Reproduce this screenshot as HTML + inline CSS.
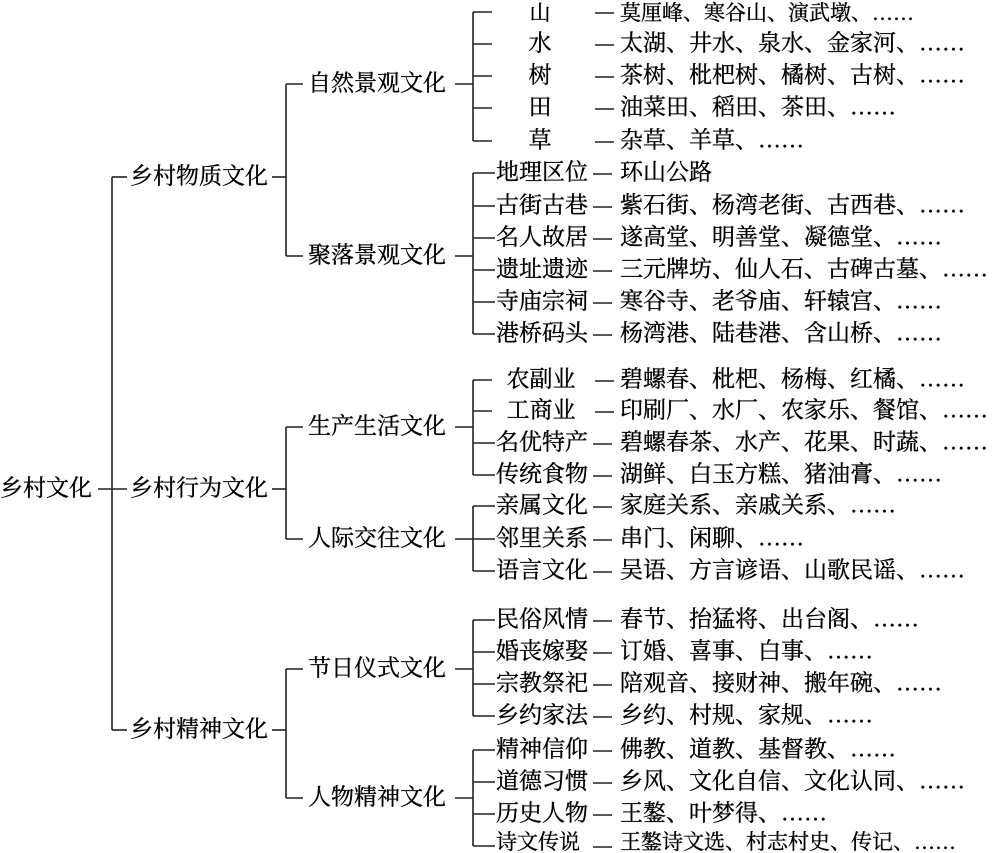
<!DOCTYPE html>
<html><head><meta charset="utf-8"><style>
html,body{margin:0;padding:0;background:#fff;width:1000px;height:853px;overflow:hidden}
svg text{font-family:"Liberation Serif","Noto Serif CJK SC",serif;font-size:23px;fill:#000;stroke:#000;stroke-width:0.35;dominant-baseline:central}
svg text.sm{font-size:21px}
svg line{stroke:#222;stroke-width:1.6}
</style></head><body>
<svg width="1000" height="853" viewBox="0 0 1000 853" xmlns="http://www.w3.org/2000/svg">
<line x1="98" y1="489" x2="127" y2="489"/>
<line x1="112" y1="177" x2="112" y2="730"/>
<line x1="112" y1="177" x2="127" y2="177"/>
<line x1="112" y1="730" x2="127" y2="730"/>
<line x1="272" y1="177" x2="286" y2="177"/>
<line x1="272" y1="489" x2="286" y2="489"/>
<line x1="272" y1="730" x2="286" y2="730"/>
<line x1="286" y1="84" x2="286" y2="256"/>
<line x1="286" y1="427" x2="286" y2="539"/>
<line x1="286" y1="669" x2="286" y2="798"/>
<line x1="286" y1="84" x2="303" y2="84"/>
<line x1="286" y1="256" x2="303" y2="256"/>
<line x1="286" y1="427" x2="303" y2="427"/>
<line x1="286" y1="539" x2="303" y2="539"/>
<line x1="286" y1="669" x2="303" y2="669"/>
<line x1="286" y1="798" x2="303" y2="798"/>
<line x1="455" y1="84" x2="473" y2="84"/>
<line x1="455" y1="256" x2="473" y2="256"/>
<line x1="455" y1="427" x2="473" y2="427"/>
<line x1="455" y1="539" x2="473" y2="539"/>
<line x1="455" y1="669" x2="473" y2="669"/>
<line x1="455" y1="798" x2="473" y2="798"/>
<line x1="473" y1="12" x2="473" y2="141"/>
<line x1="473" y1="173" x2="473" y2="334"/>
<line x1="473" y1="380" x2="473" y2="475"/>
<line x1="473" y1="506" x2="473" y2="571"/>
<line x1="473" y1="620" x2="473" y2="716"/>
<line x1="473" y1="750" x2="473" y2="846"/>
<line x1="473" y1="12" x2="492" y2="12"/><line x1="595" y1="13" x2="614" y2="13"/>
<line x1="473" y1="44" x2="492" y2="44"/><line x1="595" y1="45" x2="614" y2="45"/>
<line x1="473" y1="76" x2="492" y2="76"/><line x1="595" y1="77" x2="614" y2="77"/>
<line x1="473" y1="108" x2="492" y2="108"/><line x1="595" y1="109" x2="614" y2="109"/>
<line x1="473" y1="141" x2="492" y2="141"/><line x1="595" y1="142" x2="614" y2="142"/>
<line x1="473" y1="173" x2="495" y2="173"/><line x1="593" y1="174" x2="612" y2="174"/>
<line x1="473" y1="206" x2="495" y2="206"/><line x1="593" y1="207" x2="612" y2="207"/>
<line x1="473" y1="238" x2="495" y2="238"/><line x1="593" y1="239" x2="612" y2="239"/>
<line x1="473" y1="270" x2="495" y2="270"/><line x1="593" y1="271" x2="612" y2="271"/>
<line x1="473" y1="302" x2="495" y2="302"/><line x1="593" y1="303" x2="612" y2="303"/>
<line x1="473" y1="334" x2="495" y2="334"/><line x1="593" y1="335" x2="612" y2="335"/>
<line x1="473" y1="380" x2="492" y2="380"/><line x1="595" y1="381" x2="614" y2="381"/>
<line x1="473" y1="411" x2="492" y2="411"/><line x1="595" y1="412" x2="614" y2="412"/>
<line x1="473" y1="443" x2="495" y2="443"/><line x1="593" y1="444" x2="612" y2="444"/>
<line x1="473" y1="475" x2="495" y2="475"/><line x1="593" y1="476" x2="612" y2="476"/>
<line x1="473" y1="506" x2="495" y2="506"/><line x1="593" y1="507" x2="612" y2="507"/>
<line x1="473" y1="539" x2="495" y2="539"/><line x1="593" y1="540" x2="612" y2="540"/>
<line x1="473" y1="571" x2="495" y2="571"/><line x1="593" y1="572" x2="612" y2="572"/>
<line x1="473" y1="620" x2="495" y2="620"/><line x1="593" y1="621" x2="612" y2="621"/>
<line x1="473" y1="652" x2="495" y2="652"/><line x1="593" y1="653" x2="612" y2="653"/>
<line x1="473" y1="684" x2="495" y2="684"/><line x1="593" y1="685" x2="612" y2="685"/>
<line x1="473" y1="716" x2="495" y2="716"/><line x1="593" y1="717" x2="612" y2="717"/>
<line x1="473" y1="750" x2="495" y2="750"/><line x1="593" y1="751" x2="612" y2="751"/>
<line x1="473" y1="782" x2="495" y2="782"/><line x1="593" y1="783" x2="612" y2="783"/>
<line x1="473" y1="814" x2="495" y2="814"/><line x1="593" y1="815" x2="612" y2="815"/>
<line x1="473" y1="846" x2="495" y2="846"/><line x1="593" y1="847" x2="612" y2="847"/>
<g transform="translate(0,-1)">
<text x="0" y="489">乡村文化</text>
<text x="130" y="177">乡村物质文化</text>
<text x="130" y="489">乡村行为文化</text>
<text x="130" y="730">乡村精神文化</text>
<text x="308" y="84">自然景观文化</text>
<text x="308" y="256">聚落景观文化</text>
<text x="308" y="427">生产生活文化</text>
<text x="308" y="539">人际交往文化</text>
<text x="308" y="669">节日仪式文化</text>
<text x="308" y="798">人物精神文化</text>
<text class="sm" x="540" y="14" text-anchor="middle">山</text><text class="sm" x="620" y="14">莫厘峰、寒谷山、演武墩、……</text>
<text x="540" y="44" text-anchor="middle">水</text><text x="620" y="44">太湖、井水、泉水、金家河、……</text>
<text x="540" y="76" text-anchor="middle">树</text><text x="620" y="76">茶树、枇杷树、橘树、古树、……</text>
<text x="540" y="108" text-anchor="middle">田</text><text x="620" y="108">油菜田、稻田、茶田、……</text>
<text x="540" y="141" text-anchor="middle">草</text><text x="620" y="141">杂草、羊草、……</text>
<text x="496" y="173">地理区位</text><text x="620" y="173">环山公路</text>
<text x="496" y="206">古街古巷</text><text x="620" y="206">紫石街、杨湾老街、古西巷、……</text>
<text x="496" y="238">名人故居</text><text x="620" y="238">遂高堂、明善堂、凝德堂、……</text>
<text x="496" y="270">遗址遗迹</text><text x="620" y="270">三元牌坊、仙人石、古碑古墓、……</text>
<text x="496" y="302">寺庙宗祠</text><text x="620" y="302">寒谷寺、老爷庙、轩辕宫、……</text>
<text x="496" y="334">港桥码头</text><text x="620" y="334">杨湾港、陆巷港、含山桥、……</text>
<text x="541" y="380" text-anchor="middle">农副业</text><text x="620" y="380">碧螺春、枇杷、杨梅、红橘、……</text>
<text x="541" y="411" text-anchor="middle">工商业</text><text x="620" y="411">印刷厂、水厂、农家乐、餐馆、……</text>
<text x="496" y="443">名优特产</text><text x="620" y="443">碧螺春茶、水产、花果、时蔬、……</text>
<text x="496" y="475">传统食物</text><text x="620" y="475">湖鲜、白玉方糕、猪油膏、……</text>
<text x="496" y="506">亲属文化</text><text x="620" y="506">家庭关系、亲戚关系、……</text>
<text x="496" y="539">邻里关系</text><text x="620" y="539">串门、闲聊、……</text>
<text x="496" y="571">语言文化</text><text x="620" y="571">吴语、方言谚语、山歌民谣、……</text>
<text x="496" y="620">民俗风情</text><text x="620" y="620">春节、抬猛将、出台阁、……</text>
<text x="496" y="652">婚丧嫁娶</text><text x="620" y="652">订婚、喜事、白事、……</text>
<text x="496" y="684">宗教祭祀</text><text x="620" y="684">陪观音、接财神、搬年碗、……</text>
<text x="496" y="716">乡约家法</text><text x="620" y="716">乡约、村规、家规、……</text>
<text x="496" y="750">精神信仰</text><text x="620" y="750">佛教、道教、基督教、……</text>
<text x="496" y="782">道德习惯</text><text x="620" y="782">乡风、文化自信、文化认同、……</text>
<text x="496" y="814">历史人物</text><text x="620" y="814">王鏊、叶梦得、……</text>
<text class="sm" x="496" y="843">诗文传说</text><text class="sm" x="620" y="843">王鏊诗文选、村志村史、传记、……</text>
</g>
</svg>
</body></html>
